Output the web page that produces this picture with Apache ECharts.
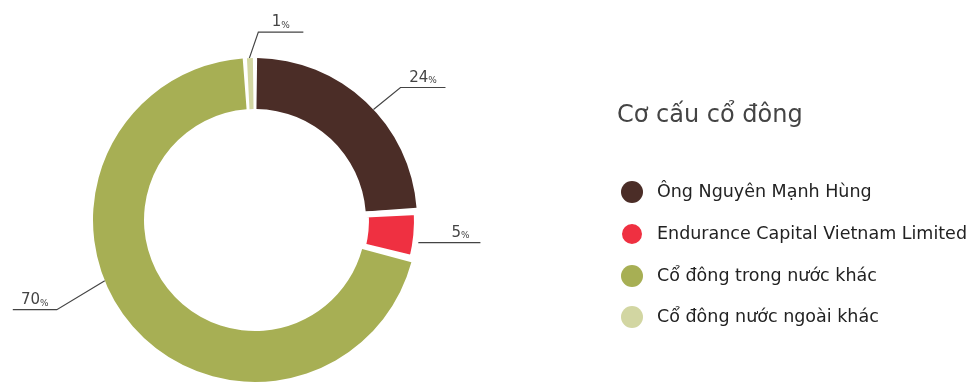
<!DOCTYPE html>
<html>
<head>
<meta charset="utf-8">
<script src="https://cdn.jsdelivr.net/npm/echarts@6/dist/echarts.min.js"></script>
<style>
  html, body { margin: 0; padding: 0; background: #fff; }
  #chart { width: 972px; height: 387px; }
</style>
</head>
<body>
<div id="chart"></div>
<script>
// dữ liệu cơ cấu cổ đông (%)
const names = ['Ông Nguyên Mạnh Hùng', 'Endurance Capital Vietnam Limited', 'Cổ đông trong nước khác', 'Cổ đông nước ngoài khác'];
const values = [24, 5, 70, 1];
const colors = ['#4b2d27', '#ef3041', '#a7af54', '#d2d6a2'];

const font = '"DejaVu Sans", Verdana, sans-serif';
const CENTER = [255, 220];
const R_OUT = 162;

// vị trí đường dẫn nhãn: góc điểm đầu trên cung, đoạn xiên, độ dài đoạn ngang
const labelGuides = [
  { angle: 43, seg: [27, -22], len: 45 },
  { angle: -8, seg: [25, 0], len: 40 },
  { angle: 202, seg: [-48, 29], len: -44 },
  { angle: 92, seg: [9, -26], len: 45 },
];

const chart = echarts.init(document.getElementById('chart'));

const pieData = names.map((n, i) => ({
  name: n,
  value: values[i],
  itemStyle: {
    color: colors[i],
    borderColor: '#fff',
    borderWidth: i === 1 ? 6 : 0,
  },
}));

chart.setOption({
  animation: false,
  title: {
    text: 'Cơ cấu cổ đông',
    left: 612,
    top: 99,
    textStyle: { fontFamily: font, fontSize: 24, fontWeight: 'normal', color: '#444' },
  },
  legend: {
    orient: 'vertical',
    left: 615,
    top: 176,
    icon: 'circle',
    itemWidth: 22,
    itemHeight: 22,
    itemGap: 19,
    textStyle: { fontFamily: font, fontSize: 17.5, color: '#222', padding: [0, 0, 0, 9] },
    data: names,
  },
  series: [
    {
      type: 'pie',
      center: CENTER,
      radius: [111, R_OUT],
      startAngle: 90,
      padAngle: 1.5,
      data: pieData,
      label: {
        show: true,
        position: 'outside',
        formatter: '{v|{c}}{p|%}',
        color: '#444',
        rich: {
          v: { fontFamily: font, fontSize: 15, color: '#444', verticalAlign: 'bottom', lineHeight: 18 },
          p: { fontFamily: font, fontSize: 9, color: '#444', verticalAlign: 'bottom', lineHeight: 14 },
        },
      },
      labelLine: {
        show: true,
        length: 30,
        length2: 45,
        lineStyle: { color: '#444', width: 1.2 },
      },
      // chữ nằm trên đoạn ngang của đường dẫn
      labelLayout: function (params) {
        const g = labelGuides[params.dataIndex];
        if (!g) return {};
        const a = (g.angle * Math.PI) / 180;
        const s = [CENTER[0] + R_OUT * Math.cos(a), CENTER[1] - R_OUT * Math.sin(a)];
        const e = [s[0] + g.seg[0], s[1] + g.seg[1]];
        const f = [e[0] + g.len, e[1]];
        return {
          x: (e[0] + f[0]) / 2,
          y: f[1] - 2,
          align: 'center',
          verticalAlign: 'bottom',
          labelLinePoints: [s, e, f],
        };
      },
      emphasis: { disabled: true },
    },
  ],
});
</script>
</body>
</html>
